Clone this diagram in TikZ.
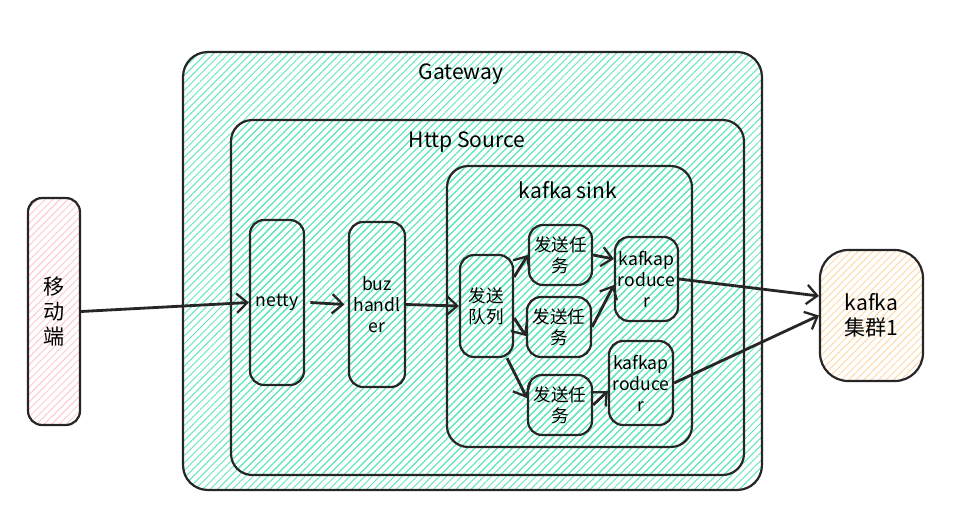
\documentclass[tikz,border=0pt]{standalone}
\usepackage{fontspec}
\setmainfont{Noto Sans CJK SC}
\usetikzlibrary{patterns.meta,arrows.meta}
\definecolor{hteal}{HTML}{63E6BE}
\definecolor{hpink}{HTML}{FFC9C9}
\definecolor{horange}{HTML}{FFD8A8}
\begin{document}
\begin{tikzpicture}[x=0.02cm,y=-0.02cm,
        box/.style={draw=black!85,line width=1.25pt,rounded corners=8pt,
            pattern={Lines[angle=45,distance=3pt,line width=0.55pt]},pattern color=hteal,
            align=center,inner sep=1pt,font=\normalsize},
        flow/.style={draw=black!85,line width=1.6pt,-{Straight Barb[length=6pt,width=11pt,line width=1.3pt]}}]
    \useasboundingbox (0,0) rectangle (958,528);
    \node[box,rounded corners=14pt,minimum width=11.58cm,minimum height=8.76cm] (gateway) at (472.5,271) {};
    \node[box,rounded corners=12pt,minimum width=10.26cm,minimum height=7.1cm] (http) at (487.5,297.5) {};
    \node[box,rounded corners=12pt,minimum width=4.9cm,minimum height=5.62cm] (sink) at (569.5,306.5) {};
    \node[font=\large] (gwlabel) at (461,74) {Gateway};
    \node[font=\large] (httplabel) at (467,142) {Http Source};
    \node[font=\large] (sinklabel) at (568,190) {kafka sink};
    \node[box,pattern color=hpink,minimum width=1.04cm,minimum height=4.54cm,font=\large] (mobile) at (54,311.5) {移\\动\\端};
    \node[box,minimum width=1.08cm,minimum height=3.3cm] (netty) at (277,302.5) {netty};
    \node[box,minimum width=1.12cm,minimum height=3.3cm] (buz) at (377,304.5) {buz\\handl\\er};
    \node[box,minimum width=1.06cm,minimum height=2.04cm] (queue) at (486.5,306) {发送\\队列};
    \node[box,minimum width=1.26cm,minimum height=1.2cm] (task1) at (560.5,255) {发送任\\务};
    \node[box,minimum width=1.28cm,minimum height=1.2cm] (task2) at (559,327) {发送任\\务};
    \node[box,minimum width=1.28cm,minimum height=1.2cm] (task3) at (560,405) {发送任\\务};
    \node[box,minimum width=1.26cm,minimum height=1.68cm] (prod1) at (646.5,279) {kafkap\\roduce\\r};
    \node[box,minimum width=1.28cm,minimum height=1.68cm] (prod2) at (641,383) {kafkap\\roduce\\r};
    \node[box,rounded corners=16pt,pattern color=horange,minimum width=2.06cm,minimum height=2.62cm,font=\large] (cluster) at (871.5,315.5) {kafka\\集群1};
    \draw[flow] (mobile.east) -- (netty.west);
    \draw[flow] ([xshift=3pt]netty.east) -- ([xshift=-2pt]buz.west);
    \draw[flow] (buz.east) -- (queue.west);
    \draw[flow] ([yshift=0.58cm]queue.east) -- (task1.west);
    \draw[flow] ([yshift=-0.24cm]queue.east) -- ([yshift=-0.18cm]task2.west);
    \draw[flow] ([xshift=-0.14cm]queue.south east) -- ([yshift=0.14cm]task3.west);
    \draw[flow] (task1.east) -- ([yshift=0.4cm]prod1.west);
    \draw[flow] (task2.east) -- ([yshift=-0.12cm]prod1.west);
    \draw[flow] (task3.east) -- ([yshift=-0.16cm]prod2.west);
    \draw[flow] (prod1.east) -- ([yshift=0.39cm]cluster.west);
    \draw[flow] (prod2.east) -- (cluster.west);
\end{tikzpicture}
\end{document}
